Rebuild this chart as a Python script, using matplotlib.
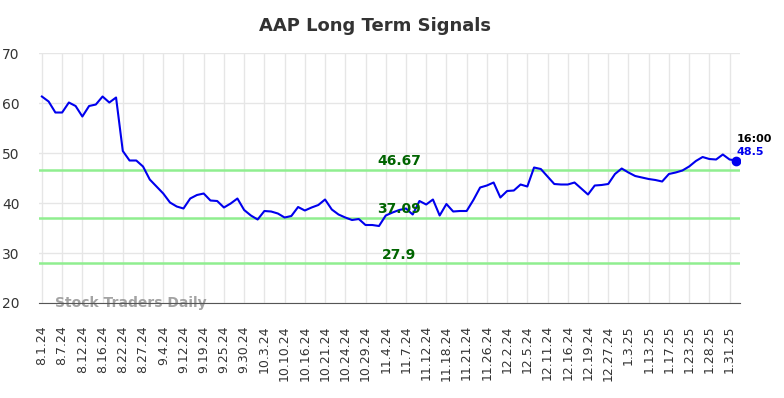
import matplotlib.pyplot as plt

# AAP closing prices
prices = [61.3, 60.3, 58.1, 58.1, 60.1, 59.4, 57.3, 59.4, 59.7, 61.3,
          60.1, 61.1, 50.4, 48.5, 48.5, 47.3, 44.7, 43.3, 41.9, 40.1,
          39.3, 38.9, 40.9, 41.6, 41.9, 40.5, 40.4, 39.1, 39.9, 40.9,
          38.6, 37.5, 36.7, 38.4, 38.3, 37.9, 37.1, 37.4, 39.2, 38.5,
          39.1, 39.6, 40.7, 38.7, 37.7, 37.1, 36.6, 36.8, 35.6, 35.6,
          35.4, 37.5, 38.1, 38.6, 38.9, 37.7, 40.4, 39.7, 40.7, 37.5,
          39.8, 38.3, 38.4, 38.4, 40.6, 43.1, 43.5, 44.1, 41.1, 42.4,
          42.5, 43.7, 43.3, 47.1, 46.8, 45.3, 43.8, 43.7, 43.7, 44.1,
          42.9, 41.7, 43.5, 43.6, 43.8, 45.8, 46.9, 46.1, 45.4, 45.1,
          44.8, 44.6, 44.3, 45.8, 46.1, 46.5, 47.3, 48.4, 49.2, 48.8,
          48.7, 49.7, 48.7, 48.5]

tick_labels = ['8.1.24', '8.7.24', '8.12.24', '8.16.24', '8.22.24', '8.27.24',
               '9.4.24', '9.12.24', '9.19.24', '9.25.24', '9.30.24', '10.3.24',
               '10.10.24', '10.16.24', '10.21.24', '10.24.24', '10.29.24', '11.4.24',
               '11.7.24', '11.12.24', '11.18.24', '11.21.24', '11.26.24', '12.2.24',
               '12.5.24', '12.11.24', '12.16.24', '12.19.24', '12.27.24', '1.3.25',
               '1.13.25', '1.17.25', '1.23.25', '1.28.25', '1.31.25']

signal_levels = [46.67, 37.09, 27.9]
signal_labels = ['46.67', '37.09', '27.9']

last_time = '16:00'

# %%

fig = plt.figure(figsize=(7.84, 3.98), dpi=100)
ax = fig.add_axes([0.050, 0.2387, 0.894, 0.6281])

x = list(range(len(prices)))
tick_pos = list(range(0, len(prices), 3))[:len(tick_labels)]

ax.set_xlim(-0.4, len(prices) - 1 + 0.56)
ax.set_ylim(20, 70)
ax.set_yticks([20, 30, 40, 50, 60, 70])
ax.set_xticks(tick_pos)
ax.set_xticklabels(tick_labels, rotation=90, fontsize=9, color='#333333')
ax.tick_params(axis='y', labelsize=10, colors='#333333', length=0, pad=14)
ax.tick_params(axis='x', length=0, pad=16)
ax.grid(True, color='#e6e6e6', linewidth=1)
ax.set_axisbelow(True)
for s in ['top', 'right', 'left']:
    ax.spines[s].set_visible(False)
ax.spines['bottom'].set_color('#555555')

for lvl, lab in zip(signal_levels, signal_labels):
    ax.axhline(lvl, color='#90ee90', linewidth=1.8, zorder=2)
    ax.text(53, lvl + 0.4, lab, color='#006400', fontsize=10, fontweight='bold',
            ha='center', va='bottom', zorder=4)

ax.plot(x, prices, color='#0000ee', linewidth=1.5, zorder=3)
ax.plot(x[-1], prices[-1], 'o', color='#0000ee', markersize=6, zorder=5)

ax.text(x[-1], prices[-1] + 3.4, last_time, fontsize=8, fontweight='bold',
        color='black', ha='left', va='bottom')
ax.text(x[-1], prices[-1] + 0.8, str(prices[-1]), fontsize=8, fontweight='bold',
        color='#0000ee', ha='left', va='bottom')

ax.text(2, 20, 'Stock Traders Daily', fontsize=10, fontweight='bold',
        color='#999999', alpha=0.9, ha='left', va='center', zorder=1)

fig.text(0.478, 0.935, 'AAP Long Term Signals', fontsize=13, fontweight='bold',
         color='#333333', ha='center', va='center')

fig.savefig('out.png', dpi=100)
